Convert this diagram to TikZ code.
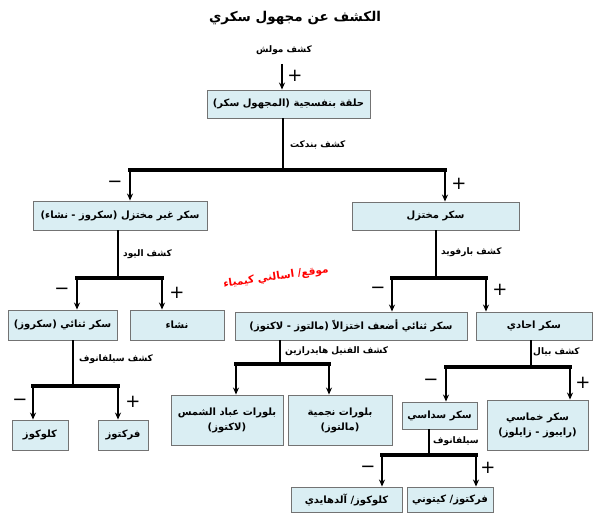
\documentclass[tikz,border=0pt]{standalone}
\usepackage{fontspec}
\usepackage{xcolor}
\newfontfamily\arabicfont[Script=Arabic]{DejaVu Sans}
\newfontfamily\signfont{DejaVu Sans}
\TeXXeTstate=1
\newcommand\rtltxt[1]{\beginR #1\endR}
\usetikzlibrary{arrows.meta,positioning}
\definecolor{boxblue}{HTML}{DAEEF3}
\tikzset{
  box/.style={draw=black!55, fill=boxblue, line width=0.9pt, inner sep=2pt, align=center,
    font=\arabicfont\bfseries\fontsize{10}{15}\selectfont},
  lbl/.style={inner sep=1pt, font=\arabicfont\bfseries\fontsize{9}{11}\selectfont},
  ttl/.style={font=\arabicfont\bfseries\fontsize{13.5}{16}\selectfont},
  sgn/.style={inner sep=0pt, font=\signfont\fontsize{18}{18}\selectfont},
  bar/.style={line width=3.4pt, line cap=rect},
  stem/.style={line width=1.8pt},
  arr/.style={line width=1.5pt, -{Stealth[length=7pt,width=6pt]}}
}

\begin{document}
\begin{tikzpicture}[x=1pt,y=-1pt]
    \useasboundingbox (0,0) rectangle (596,518);
    \node[ttl] (title) at (295,18) {\rtltxt{الكشف عن مجهول سكري}};
    \node[lbl] (molish) at (284,50) {\rtltxt{كشف مولش}};
    \node[box, minimum width=163pt, minimum height=28pt] (ring) at (288.5,104) {\rtltxt{حلقة بنفسجية (المجهول سكر)}};
    \node[box, minimum width=174pt, minimum height=29pt] (nonred) at (120,215.5) {\rtltxt{سكر غير مختزل (سكروز - نشاء)}};
    \node[box, minimum width=167pt, minimum height=28pt] (red) at (435.5,216) {\rtltxt{سكر مختزل}};
    \node[box, minimum width=109pt, minimum height=30pt] (sucrose) at (62.5,325) {\rtltxt{سكر ثنائي (سكروز)}};
    \node[box, minimum width=94pt, minimum height=30pt] (starch) at (177,325) {\rtltxt{نشاء}};
    \node[box, minimum width=232pt, minimum height=28pt] (disacc) at (351,326) {\rtltxt{سكر ثنائي أضعف اختزالاً (مالتوز - لاكتوز)}};
    \node[box, minimum width=116pt, minimum height=28pt] (monosacc) at (534,326) {\rtltxt{سكر احادي}};
    \node[box, minimum width=56pt, minimum height=30pt] (glucose) at (40,435) {\rtltxt{كلوكوز}};
    \node[box, minimum width=50pt, minimum height=30pt] (fructose) at (123,435) {\rtltxt{فركتوز}};
    \node[box, minimum width=112pt, minimum height=50pt] (lactose) at (227,420) {\rtltxt{بلورات عباد الشمس}\\\rtltxt{(لاكتوز)}};
    \node[box, minimum width=104pt, minimum height=50pt] (maltose) at (340,420) {\rtltxt{بلورات نجمية}\\\rtltxt{(مالتوز)}};
    \node[box, minimum width=75pt, minimum height=27pt] (hexose) at (439.5,415.5) {\rtltxt{سكر سداسي}};
    \node[box, minimum width=101pt, minimum height=50pt] (pentose) at (537.5,425) {\rtltxt{سكر خماسي}\\\rtltxt{(رايبوز - زايلوز)}};
    \node[box, minimum width=111pt, minimum height=25pt] (aldose) at (346.5,499.5) {\rtltxt{كلوكوز/ آلدهايدي}};
    \node[box, minimum width=86pt, minimum height=25pt] (ketose) at (450,499.5) {\rtltxt{فركتوز/ كيتوني}};

    \node[red, rotate=8, font=\arabicfont\bfseries\fontsize{10.5}{12}\selectfont] (site) at (276,277) {\rtltxt{موقع/ اسالني كيمياء}};

    % molisch
    \coordinate (m0) at (282,64);
    \draw[arr] (m0) -- (m0 |- ring.north);
    \node[sgn] (p0) at (295,76) {+};

    % benedict
    \coordinate (b1) at (283,170);
    \coordinate (b1l) at (130,170);
    \coordinate (b1r) at (445,170);
    \draw[stem] (b1 |- ring.south) -- (b1);
    \draw[bar] (b1l) -- (b1r);
    \draw[arr] (b1l) -- (b1l |- nonred.north);
    \draw[arr] (b1r) -- (b1r |- red.north);
    \node[lbl, anchor=west] (benedict) at (289,145) {\rtltxt{كشف بندكت}};
    \node[sgn] (m1) at (115,184) {−};
    \node[sgn] (p1) at (459,184) {+};

    % iodine
    \coordinate (b2) at (118,278);
    \coordinate (b2l) at (77,278);
    \coordinate (b2r) at (162,278);
    \draw[stem] (b2 |- nonred.south) -- (b2);
    \draw[bar] (b2l) -- (b2r);
    \draw[arr] (b2l) -- (b2l |- sucrose.north);
    \draw[arr] (b2r) -- (b2r |- starch.north);
    \node[lbl, anchor=west] (iodine) at (122,254) {\rtltxt{كشف اليود}};
    \node[sgn] (m2) at (62,291) {−};
    \node[sgn] (p2) at (177,293) {+};

    % barfoed
    \coordinate (b3) at (436,278);
    \coordinate (b3l) at (392,278);
    \coordinate (b3r) at (486,278);
    \draw[stem] (b3 |- red.south) -- (b3);
    \draw[bar] (b3l) -- (b3r);
    \draw[arr] (b3l) -- (b3l |- disacc.north);
    \draw[arr] (b3r) -- (b3r |- monosacc.north);
    \node[lbl, anchor=west] (barfoed) at (440,252) {\rtltxt{كشف بارفويد}};
    \node[sgn] (m3) at (378,290) {−};
    \node[sgn] (p3) at (500,290) {+};

    % seliwanoff (left)
    \coordinate (b4) at (73,386);
    \coordinate (b4l) at (33,386);
    \coordinate (b4r) at (118,386);
    \draw[stem] (b4 |- sucrose.south) -- (b4);
    \draw[bar] (b4l) -- (b4r);
    \draw[arr] (b4l) -- (b4l |- glucose.north);
    \draw[arr] (b4r) -- (b4r |- fructose.north);
    \node[lbl, anchor=west] (seliw1) at (78,359) {\rtltxt{كشف سيلفانوف}};
    \node[sgn] (m4) at (20,402) {−};
    \node[sgn] (p4) at (133,402) {+};

    % phenylhydrazine
    \coordinate (b5) at (280,364);
    \coordinate (b5l) at (236,364);
    \coordinate (b5r) at (329,364);
    \draw[stem] (b5 |- disacc.south) -- (b5);
    \draw[bar] (b5l) -- (b5r);
    \draw[arr] (b5l) -- (b5l |- lactose.north);
    \draw[arr] (b5r) -- (b5r |- maltose.north);
    \node[lbl, anchor=west] (phenyl) at (284,351) {\rtltxt{كشف الفنيل هايدرازين}};

    % bial
    \coordinate (b6) at (531,367);
    \coordinate (b6l) at (446,367);
    \coordinate (b6r) at (570,367);
    \draw[stem] (b6 |- monosacc.south) -- (b6);
    \draw[bar] (b6l) -- (b6r);
    \draw[arr] (b6l) -- (b6l |- hexose.north);
    \draw[arr] (b6r) -- (b6r |- pentose.north);
    \node[lbl, anchor=west] (bial) at (532,352) {\rtltxt{كشف بيال}};
    \node[sgn] (m6) at (431,382) {−};
    \node[sgn] (p6) at (583,383) {+};

    % seliwanoff (right)
    \coordinate (b7) at (429,455);
    \coordinate (b7l) at (382,455);
    \coordinate (b7r) at (476,455);
    \draw[stem] (b7 |- hexose.south) -- (b7);
    \draw[bar] (b7l) -- (b7r);
    \draw[arr] (b7l) -- (b7l |- aldose.north);
    \draw[arr] (b7r) -- (b7r |- ketose.north);
    \node[lbl, anchor=west] (seliw2) at (432,441) {\rtltxt{سيلفانوف}};
    \node[sgn] (m7) at (368,469) {−};
    \node[sgn] (p7) at (488,468) {+};
\end{tikzpicture}
\end{document}
